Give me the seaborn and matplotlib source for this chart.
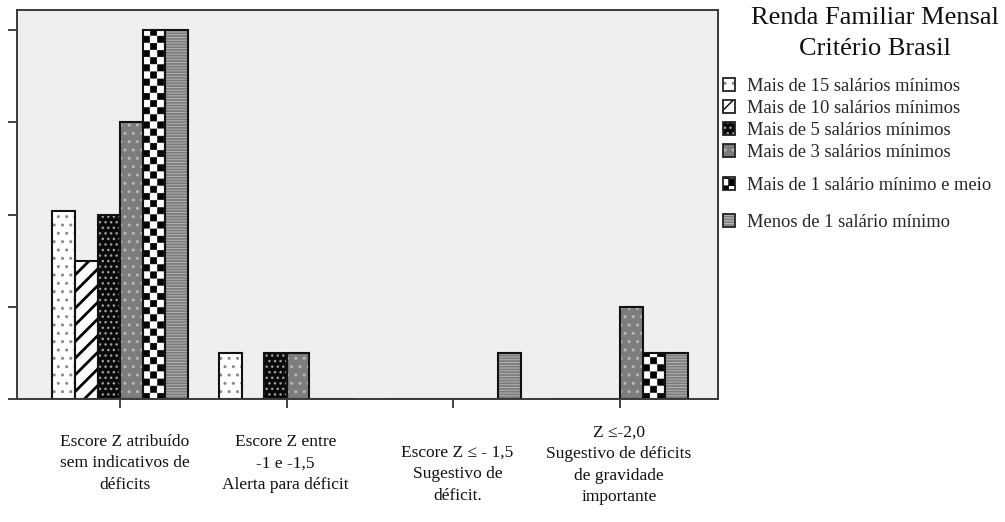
import numpy as np
import pandas as pd
import matplotlib
matplotlib.use("Agg")
import matplotlib.pyplot as plt
import matplotlib.hatch as mhatch
import matplotlib.patches as mpatches
from matplotlib.path import Path
from matplotlib.legend_handler import HandlerTuple
import seaborn as sns

# ---------------- data ----------------
categories = [
    "Escore Z atribuído\nsem indicativos de\ndéficits",
    "Escore Z entre\n-1 e -1,5\nAlerta para déficit",
    "Escore Z ≤ - 1,5\nSugestivo de\ndéficit.",
    "Z ≤-2,0\nSugestivo de déficits\nde gravidade\nimportante",
]
series = [
    "Mais de 15 salários mínimos",
    "Mais de 10 salários mínimos",
    "Mais de 5 salários mínimos",
    "Mais de 3 salários mínimos",
    "Mais de 1 salário mínimo e meio",
    "Menos de 1 salário mínimo",
]
v_mais15 = [4.07, 1, 0, 0]
v_mais10 = [3, 0, 0, 0]
v_mais5 = [4, 1, 0, 0]
v_mais3 = [6, 1, 0, 2]
v_mais1_5 = [8, 0, 0, 1]
v_menos1 = [8, 0, 1, 1]
values = [v_mais15, v_mais10, v_mais5, v_mais3, v_mais1_5, v_menos1]
legend_title = "Renda Familiar Mensal\nCritério Brasil"
yticks = [0, 2, 4, 6, 8]


# ---------------- custom checkerboard hatch ('*') ----------------
class CheckerHatch(mhatch.HatchPatternBase):
    def __init__(self, hatch, density):
        n = int(round(hatch.count("*") * density * 7 / 6))
        n += n % 2
        self.n = n
        self.num_vertices = (n * n // 2) * 5 if n else 0

    def set_vertices_and_codes(self, vertices, codes):
        n = self.n
        s = 1.0 / n
        sh = 0.004
        k = 0
        for i in range(n):
            for j in range(n):
                if (i + j) % 2 == 0:
                    x0, y0 = i * s + sh, j * s + sh
                    x1, y1 = (i + 1) * s - sh, (j + 1) * s - sh
                    vertices[k:k + 5] = [[x0, y0], [x1, y0], [x1, y1], [x0, y1], [x0, y0]]
                    codes[k:k + 5] = [Path.MOVETO, Path.LINETO, Path.LINETO,
                                      Path.LINETO, Path.CLOSEPOLY]
                    k += 5


mhatch._hatch_types = [t for t in mhatch._hatch_types if t is not mhatch.Stars] + [CheckerHatch]

# ---------------- style ----------------
sns.set_style("white")
plt.rcParams["font.family"] = ["Liberation Serif", "DejaVu Serif"]
plt.rcParams["hatch.linewidth"] = 1.0

facecolors = ["#ffffff", "#ffffff", "#0a0a0a", "#7d7d7d", "#ffffff", "#7c7c7c"]
hatchcolors = ["#8a8a8a", "#000000", "#a0a0a0", "#b8b8b8", "#000000", "#b4b4b4"]
hatches = ["..", "//", "...", "..", "**", "------"]
hatch_lw = [1.0, 2.0, 1.0, 1.0, 0.4, 0.7]

W, H = 1005, 522
fig = plt.figure(figsize=(W / 100, H / 100), dpi=100)
ax = fig.add_axes([17 / W, 1 - 399 / H, (718 - 17) / W, (399 - 10) / H])
ax.set_facecolor("#efefef")

rows = []
for s, vals in zip(series, values):
    for c, v in zip(categories, vals):
        rows.append({"categoria": c, "renda": s, "valor": v})
df = pd.DataFrame(rows)

sns.barplot(data=df, x="categoria", y="valor", hue="renda", order=categories,
            hue_order=series, palette=facecolors, saturation=1, width=0.81,
            gap=0, dodge=True, errorbar=None, legend=False, linewidth=0, ax=ax)

for cont, fc, hc, h, hl in zip(ax.containers, facecolors, hatchcolors, hatches, hatch_lw):
    for p in cont.patches:
        p.set_facecolor(fc)
        p.set_edgecolor(hc)
        p.set_hatch(h)
        p.set_linewidth(0)
        if hasattr(p, "set_hatch_linewidth"):
            p.set_hatch_linewidth(hl)

# outline layer
sns.barplot(data=df, x="categoria", y="valor", hue="renda", order=categories,
            hue_order=series, palette=["#111111"] * len(series), saturation=1,
            width=0.81, gap=0, dodge=True, errorbar=None, legend=False,
            fill=False, linewidth=1.5, ax=ax)

ax.set_xlim(-0.618, 3.588)
ax.set_ylim(0, 8.434)
ax.set_yticks(yticks)
ax.set_yticklabels([""] * len(yticks))
ax.set_xticks(range(len(categories)))
ax.set_xticklabels([""] * len(categories))
ax.set_xlabel("")
ax.set_ylabel("")
ax.tick_params(axis="both", direction="out", length=6.5, width=1.3, color="#333333",
               left=True, bottom=True)
for sp in ax.spines.values():
    sp.set_visible(True)
    sp.set_color("#3a3a3a")
    sp.set_linewidth(1.4)

# category labels below the axis
label_offsets = [(5, 35), (-1, 35), (4, 46), (-1, 26)]
for i, (lab, (dx, dy)) in enumerate(zip(categories, label_offsets)):
    ax.annotate(lab, xy=(i, 0), xycoords=("data", "axes fraction"),
                xytext=(dx, -dy), textcoords="offset pixels",
                ha="center", va="top", multialignment="center",
                fontsize=12.5, linespacing=1.45, color="#111111")

# legend
handles = []
for fc, hc, h, hl in zip(facecolors, hatchcolors, hatches, hatch_lw):
    p = mpatches.Patch(facecolor=fc, edgecolor=hc, hatch=h, linewidth=0)
    if hasattr(p, "set_hatch_linewidth"):
        p.set_hatch_linewidth(hl)
    o = mpatches.Patch(facecolor="none", edgecolor="#222222", linewidth=1.3)
    handles.append((p, o))

common = dict(loc="upper left", frameon=False, prop={"size": 13.3},
              handlelength=0.67, handleheight=0.67, handletextpad=0.62,
              borderpad=0, borderaxespad=0,
              handler_map={tuple: HandlerTuple(ndivide=1, pad=0)})
fig.legend(handles[:4], series[:4], bbox_to_anchor=(723 / W, 1 - 78 / H),
           labelspacing=0.27, **common)
fig.legend(handles[4:], series[4:], bbox_to_anchor=(723 / W, 1 - 177 / H),
           labelspacing=1.07, **common)

fig.text(875 / W, 1 - 7 / H, legend_title, ha="center", va="top",
         fontsize=19, linespacing=1.55, color="#111111")

fig.savefig("out.png", dpi=100, facecolor="white")
